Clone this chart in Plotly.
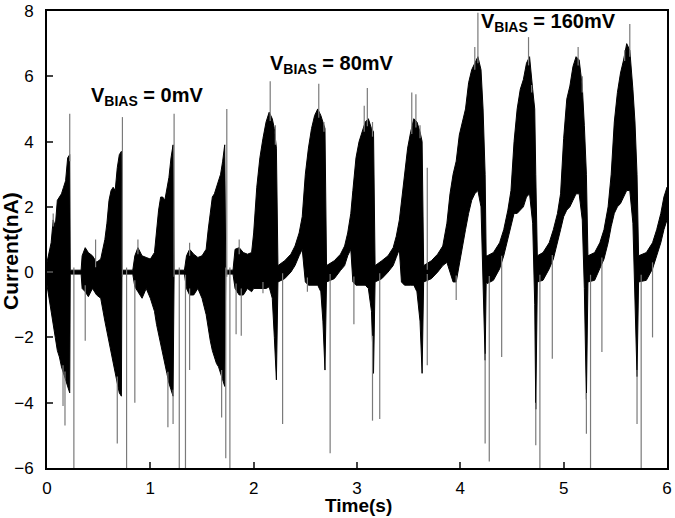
import numpy as np
import plotly.graph_objects as go

# ---- envelope of the current trace ----
T = [0.00, 0.02, 0.04, 0.06, 0.08, 0.10, 0.12, 0.14, 0.16, 0.18, 0.20, 0.22, 0.225,
     0.33, 0.34, 0.37, 0.40, 0.44, 0.48, 0.52, 0.56, 0.58, 0.60, 0.62, 0.64, 0.66, 0.68, 0.70, 0.72, 0.725,
     0.83, 0.85, 0.88, 0.92, 0.96, 1.00, 1.04, 1.06, 1.08, 1.10, 1.12, 1.14, 1.16, 1.18, 1.20, 1.22, 1.23,
     1.33, 1.35, 1.38, 1.42, 1.46, 1.50, 1.54, 1.56, 1.58, 1.60, 1.62, 1.64, 1.66, 1.68, 1.70, 1.72, 1.73,
     1.80, 1.82, 1.86, 1.90, 1.94, 1.98,
     2.00, 2.03, 2.06, 2.09, 2.12, 2.15, 2.18, 2.20, 2.22, 2.235,
     2.30, 2.36, 2.40, 2.44, 2.47,
     2.50, 2.53, 2.56, 2.59, 2.62, 2.65, 2.67, 2.69, 2.705,
     2.78, 2.84, 2.88, 2.91, 2.94,
     2.96, 2.99, 3.02, 3.05, 3.08, 3.11, 3.14, 3.16, 3.175,
     3.24, 3.30, 3.35, 3.38, 3.41,
     3.43, 3.46, 3.49, 3.52, 3.55, 3.58, 3.61, 3.63, 3.645,
     3.72, 3.78, 3.83,
     3.87, 3.90, 3.93, 3.96, 3.99, 4.02, 4.05, 4.08, 4.11, 4.14, 4.17, 4.20, 4.22, 4.24, 4.25,
     4.26, 4.32, 4.38, 4.42, 4.46, 4.49, 4.52, 4.55, 4.58, 4.61, 4.64, 4.67, 4.70, 4.72, 4.73, 4.745,
     4.80, 4.86, 4.90, 4.94, 4.97, 5.00, 5.03, 5.06, 5.09, 5.12, 5.15, 5.18, 5.20, 5.22, 5.235,
     5.30, 5.35, 5.39, 5.43, 5.46, 5.49, 5.52, 5.55, 5.58, 5.61, 5.64, 5.67, 5.69, 5.71, 5.725,
     5.80, 5.86, 5.90, 5.94, 5.97, 6.00]

UP = [0.3, 0.6, 0.9, 1.6, 1.4, 2.2, 2.3, 2.4, 2.6, 2.8, 3.5, 3.6, 0.06,
      0.06, 0.5, 0.75, 0.6, 0.5, 0.3, 0.4, 1.0, 1.5, 2.2, 2.5, 2.6, 2.5, 3.2, 3.6, 3.7, 0.06,
      0.06, 0.5, 0.75, 0.5, 0.45, 0.4, 0.6, 1.3, 1.9, 2.3, 2.3, 2.2, 2.6, 2.9, 3.5, 3.9, 0.06,
      0.06, 0.5, 0.7, 0.55, 0.45, 0.5, 0.7, 1.3, 1.9, 2.3, 2.4, 2.6, 2.8, 3.0, 3.4, 3.9, 0.06,
      0.06, 0.7, 0.75, 0.6, 0.55, 0.6,
      1.2, 2.6, 3.5, 4.1, 4.6, 4.9, 4.7, 4.4, 3.8, 0.2,
      0.35, 0.55, 0.8, 1.2, 1.7,
      3.0, 3.8, 4.4, 4.8, 5.0, 4.8, 4.6, 4.4, 0.2,
      0.35, 0.55, 0.8, 1.2, 1.8,
      2.5, 3.5, 4.0, 4.3, 4.6, 4.7, 4.4, 4.3, 0.2,
      0.35, 0.5, 0.75, 1.1, 1.6,
      2.2, 3.0, 3.8, 4.3, 4.7, 4.6, 4.3, 4.0, 0.2,
      0.35, 0.55, 0.8,
      1.5, 2.4, 3.0, 3.4, 4.2, 4.6, 5.0, 5.8, 6.2, 6.4, 6.6, 6.2, 5.0, 3.0, 0.5,
      0.5, 0.6, 0.9, 1.3, 1.9, 2.5, 4.0, 5.0, 5.6, 5.9, 6.4, 6.6, 5.6, 5.0, 3.0, 0.5,
      0.6, 0.9, 1.3, 1.8, 2.4, 4.1, 5.3, 5.7, 6.3, 6.6, 6.5, 5.7, 4.5, 3.0, 0.5,
      0.6, 0.9, 1.3, 2.0, 3.0, 4.6, 5.5, 6.1, 6.5, 7.0, 6.8, 5.6, 4.6, 3.0, 0.5,
      0.6, 0.9, 1.3, 1.8, 2.3, 2.6]

LO = [-0.4, -0.8, -1.3, -1.6, -2.0, -2.4, -2.6, -2.9, -3.1, -3.3, -3.5, -3.7, -0.06,
      -0.06, -0.5, -0.6, -0.75, -0.5, -0.7, -0.8, -1.5, -1.9, -2.2, -2.5, -2.8, -3.1, -3.4, -3.7, -3.8, -0.06,
      -0.06, -0.45, -0.6, -0.8, -0.5, -0.8, -1.2, -1.6, -2.0, -2.3, -2.5, -2.8, -3.1, -3.4, -3.6, -3.8, -0.06,
      -0.06, -0.5, -0.7, -0.7, -0.5, -0.8, -1.3, -1.7, -2.1, -2.4, -2.6, -2.8, -2.9, -3.1, -3.3, -3.5, -0.06,
      -0.06, -0.5, -0.7, -0.7, -0.5, -0.6,
      -0.5, -0.5, -0.5, -0.5, -0.5, -0.45, -0.8, -2.0, -3.3, -0.3,
      -0.2, 0.0, 0.2, 0.5, 0.7,
      -0.3, -0.4, -0.4, -0.4, -0.4, -0.6, -1.5, -3.0, -0.3,
      -0.2, 0.05, 0.2, 0.5, 0.7,
      -0.3, -0.4, -0.4, -0.4, -0.4, -0.5, -1.2, -3.1, -0.3,
      -0.2, 0.0, 0.2, 0.45, 0.7,
      -0.3, -0.4, -0.4, -0.4, -0.4, -0.6, -1.5, -3.1, -0.3,
      -0.2, 0.0, 0.2,
      0.3, 0.0, -0.3, -0.3, 0.2, 0.8, 1.3, 1.8, 2.2, 2.4, 2.5, 2.0, -0.5, -2.7, -0.3,
      -0.35, -0.25, 0.1, 0.5, 1.0, 1.4, 1.8, 1.8, 1.9, 2.0, 2.3, 2.4, 1.5, -1.0, -4.2, -0.3,
      -0.25, 0.1, 0.4, 0.9, 1.3, 1.7, 1.9, 2.0, 2.2, 2.4, 2.4, 1.6, -0.5, -3.9, -0.3,
      -0.25, 0.1, 0.4, 0.9, 1.4, 1.8, 2.0, 2.1, 2.3, 2.5, 2.5, 1.5, -1.0, -3.2, -0.3,
      -0.25, 0.1, 0.5, 0.9, 1.3, 1.6]

# ---- isolated spikes (time, tip value) ----
SPIKE_T = [0.22, 0.73, 1.23, 1.74, 0.06, 0.47, 0.88, 1.38, 1.86,
           2.16, 2.21, 2.63, 2.68, 3.07, 3.10, 3.15, 3.53, 3.57, 3.61, 3.68,
           4.17, 4.14, 4.66, 4.69, 5.14, 5.18, 5.64, 5.59,
           0.155, 0.174, 0.26, 0.37, 0.68, 0.77, 0.85, 1.17, 1.22, 1.28, 1.34, 1.38,
           1.69, 1.73, 1.77, 1.83, 1.88,
           2.09, 2.28, 2.52, 2.74, 2.97, 3.15, 3.22, 3.68,
           3.96, 4.24, 4.28, 4.40, 4.73, 4.77, 4.89, 5.22, 5.26, 5.37, 5.71, 5.75, 5.86]
SPIKE_V = [4.85, 4.75, 4.85, 5.0, 1.8, 1.0, 1.0, 0.9, 1.0,
           5.85, 4.5, 5.77, 4.6, 5.1, 5.64, 4.6, 5.5, 5.45, 4.5, 3.2,
           7.95, 6.9, 7.2, 5.5, 6.9, 6.0, 7.6, 6.8,
           -4.1, -4.7, -6.0, -2.1, -5.25, -6.0, -4.0, -4.75, -4.65, -6.0, -6.0, -3.0,
           -4.45, -5.7, -6.0, -1.9, -1.95,
           -0.65, -4.65, -0.6, -5.55, -1.6, -4.55, -4.5, -2.85,
           -0.85, -5.25, -5.8, -2.6, -5.3, -6.0, -2.65, -4.95, -6.0, -2.45, -4.65, -6.0, -2.0]

X_TICKS = [0, 1, 2, 3, 4, 5, 6]
Y_TICKS = [-6, -4, -2, 0, 2, 4, 6, 8]

LABELS = ["V<sub>BIAS</sub> = 0mV", "V<sub>BIAS</sub> = 80mV", "V<sub>BIAS</sub> = 160mV"]
LABEL_T = [0.41, 2.135, 4.18]
LABEL_V = [5.38, 6.35, 7.65]

FONT = "Liberation Sans, Arial, sans-serif"

fig = go.Figure()

# dense trace drawn as its filled envelope
fig.add_trace(go.Scatter(
    x=T + T[::-1], y=UP + LO[::-1], mode="lines", fill="toself",
    fillcolor="black", line=dict(color="black", width=1), hoverinfo="skip",
    showlegend=False))

# spikes: from the envelope edge to the tip
up_i = np.interp(SPIKE_T, T, UP)
lo_i = np.interp(SPIKE_T, T, LO)
sx, sy = [], []
for t, v, u, l in zip(SPIKE_T, SPIKE_V, up_i, lo_i):
    base = u - 0.2 if v > 0 else l + 0.2
    sx += [t, t, None]
    sy += [base, v, None]
fig.add_trace(go.Scatter(x=sx, y=sy, mode="lines",
                         line=dict(color="#7a7a7a", width=1.2),
                         hoverinfo="skip", showlegend=False))

for txt, t, v in zip(LABELS, LABEL_T, LABEL_V):
    fig.add_annotation(x=t, y=v, text="<b>" + txt + "</b>", showarrow=False,
                       xanchor="left", yanchor="middle",
                       font=dict(family=FONT, size=20, color="black"))

# axis titles
fig.add_annotation(xref="paper", yref="paper", x=0.502, y=-0.083,
                   text="<b>Time(s)</b>", showarrow=False,
                   xanchor="center", yanchor="middle",
                   font=dict(family=FONT, size=19, color="black"))
fig.add_annotation(xref="paper", yref="paper", x=-0.058, y=0.475,
                   text="<b>Current(nA)</b>", showarrow=False, textangle=-90,
                   xanchor="center", yanchor="middle",
                   font=dict(family=FONT, size=21, color="black"))

fig.update_layout(
    width=675, height=518,
    margin=dict(l=47, r=8, t=11, b=50),
    plot_bgcolor="white", paper_bgcolor="white",
    font=dict(family=FONT, size=17, color="black"),
)
fig.update_xaxes(range=[0, 6], tickvals=X_TICKS, ticks="inside", ticklen=6, tickwidth=2,
                 showline=True, linecolor="black", linewidth=2, mirror=True,
                 showgrid=False, zeroline=False, automargin=False,
                 ticklabelstandoff=4, tickfont=dict(size=17))
fig.update_yaxes(range=[-6, 8], tickvals=Y_TICKS, ticks="inside", ticklen=6, tickwidth=2,
                 showline=True, linecolor="black", linewidth=2, mirror=True,
                 showgrid=False, zeroline=False, automargin=False,
                 ticklabelstandoff=8, tickfont=dict(size=17))

# remove the browser's default 8px body margin so the figure fills the window
fig.write_html("out.html",
               config={"displayModeBar": False},
               post_script="document.body.style.margin='0px';document.body.style.overflow='hidden';")
